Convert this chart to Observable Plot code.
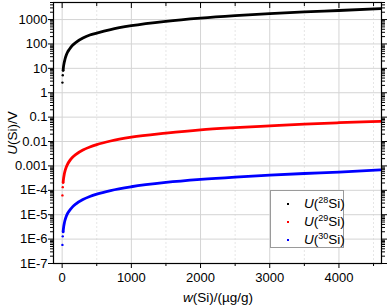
<!DOCTYPE html>
<html>
<head>
<meta charset="utf-8">
<script src="https://cdn.jsdelivr.net/npm/d3@7"></script>
<script src="https://cdn.jsdelivr.net/npm/@observablehq/plot@0.6"></script>
<style>
  body { margin: 0; background: #fff; }
  #wrap { position: relative; width: 387px; height: 306px; font-family: "Liberation Sans", Arial, sans-serif; }
  #wrap svg { position: absolute; left: 0; top: 0; }
  .lab { position: absolute; font-size: 13.5px; color: #000; white-space: nowrap; }
  #ylab { left: 12px; top: 133px; transform: translate(-50%, -50%) rotate(-90deg); }
  #xlab { left: 218px; top: 297px; transform: translate(-50%, -50%); }
  #legend { position: absolute; left: 270px; top: 190px; width: 72px; height: 56px; border: 1px solid #9a9a9a; background: #fff; font-size: 13.5px; }
  #legend .row { position: absolute; left: 0; height: 18px; line-height: 18px; width: 72px; }
  #legend .sym { position: absolute; left: 16px; top: 8px; width: 2px; height: 2px; }
  #legend .txt { position: absolute; left: 33px; top: 0; }
  sup { font-size: 9px; vertical-align: 5px; line-height: 0; }
</style>
</head>
<body>
<div id="wrap"></div>
<script>
// mass fraction of Si (µg/g)
const wSi = [4, 9, 14, 20, 30, 40, 60, 80, 100, 150, 200, 300, 400, 500, 700, 1000, 1500, 2000, 2500, 3000, 3500, 4000, 4600];
// U(28Si) / V
const U28 = [2.6, 5.2, 8.3, 12, 17.5, 23, 35, 47, 58, 88, 117, 175, 232, 280, 390, 560, 850, 1150, 1450, 1750, 2050, 2350, 2800];
// U(29Si) / V
const U29 = [6.2e-5, 1.35e-4, 2.1e-4, 3.0e-4, 4.5e-4, 6.0e-4, 9.0e-4, 1.2e-3, 1.5e-3, 2.25e-3, 3.0e-3, 4.5e-3, 6.0e-3, 7.5e-3, 0.0105, 0.015, 0.022, 0.03, 0.037, 0.044, 0.052, 0.059, 0.067];
// U(30Si) / V
const U30 = [5.8e-7, 1.3e-6, 2.0e-6, 2.9e-6, 4.3e-6, 5.8e-6, 8.6e-6, 1.15e-5, 1.4e-5, 2.1e-5, 2.8e-5, 4.2e-5, 5.6e-5, 7.0e-5, 9.8e-5, 1.4e-4, 2.1e-4, 2.8e-4, 3.5e-4, 4.2e-4, 4.9e-4, 5.6e-4, 6.9e-4];

const seriesNames = ["U(28Si)", "U(29Si)", "U(30Si)"];
const seriesColors = ["#000000", "#ff0000", "#0000ff"];
const seriesValues = [U28, U29, U30];

const xTicks = [0, 1000, 2000, 3000, 4000];
const xMinorTicks = [500, 1500, 2500, 3500, 4500];
const yTicks = [1e-7, 1e-6, 1e-5, 1e-4, 0.001, 0.01, 0.1, 1, 10, 100, 1000];
const yMinorTicks = [];
for (const d of yTicks) for (let m = 2; m <= 9; m++) if (d * m <= 5000) yMinorTicks.push(d * m);

const rows = [];
seriesValues.forEach((vals, si) => vals.forEach((v, i) => rows.push({w: wSi[i], u: v, s: seriesNames[si], i})));

const yFmt = v => v >= 0.001 ? String(v) : "1E" + Math.round(Math.log10(v));

const chart = Plot.plot({
  width: 387,
  height: 306,
  marginLeft: 53,
  marginRight: 6,
  marginTop: 2,
  marginBottom: 43,
  style: {fontFamily: "'Liberation Sans', Arial, sans-serif", fontSize: "13px", background: "transparent", overflow: "visible"},
  x: {domain: [-125, 4615], label: null},
  y: {type: "log", domain: [1e-7, 5000], label: null},
  color: {domain: seriesNames, range: seriesColors},
  marks: [
    Plot.gridX(xMinorTicks, {stroke: "#e6e6e6", strokeOpacity: 1, strokeDasharray: "2,2"}),
    Plot.gridX(xTicks, {stroke: "#d4d4d4", strokeOpacity: 1}),
    Plot.gridY(yTicks, {stroke: "#d4d4d4", strokeOpacity: 1}),
    Plot.line(rows.filter(d => d.i >= 2), {x: "w", y: "u", z: "s", stroke: "s", strokeWidth: 2.8, curve: "monotone-x"}),
    Plot.dot(rows.filter(d => d.i < 3), {x: "w", y: "u", fill: "s", r: 1.2}),
    Plot.axisX(xTicks, {anchor: "bottom", tickSize: 5, tickPadding: 4, fontSize: 13, tickFormat: d => String(d), label: null}),
    Plot.axisX(xMinorTicks, {anchor: "bottom", tickSize: 3, tickFormat: () => "", label: null}),
    Plot.axisX(xTicks, {anchor: "top", tickSize: -5, tickFormat: () => "", label: null}),
    Plot.axisX(xMinorTicks, {anchor: "top", tickSize: -3, tickFormat: () => "", label: null}),
    Plot.axisY(yTicks, {anchor: "left", tickSize: 5, tickPadding: 1, tickFormat: yFmt, fontSize: 13, label: null}),
    Plot.axisY(yMinorTicks, {anchor: "left", tickSize: 3, tickFormat: () => "", label: null}),
    Plot.axisY(yTicks, {anchor: "right", tickSize: 5, tickFormat: () => "", label: null}),
    Plot.axisY(yMinorTicks, {anchor: "right", tickSize: 3, tickFormat: () => "", label: null}),
    Plot.frame({stroke: "#000", strokeWidth: 1.2})
  ]
});

const wrap = document.getElementById("wrap");
wrap.appendChild(chart);

const ylab = document.createElement("div");
ylab.className = "lab"; ylab.id = "ylab";
ylab.innerHTML = "<i>U</i>(Si)/V";
wrap.appendChild(ylab);

const xlab = document.createElement("div");
xlab.className = "lab"; xlab.id = "xlab";
xlab.innerHTML = "<i>w</i>(Si)/(µg/g)";
wrap.appendChild(xlab);

const legend = document.createElement("div");
legend.id = "legend";
const isotopes = ["28", "29", "30"];
isotopes.forEach((iso, k) => {
  const row = document.createElement("div");
  row.className = "row";
  row.style.top = (4 + k * 18) + "px";
  row.innerHTML = `<span class="sym" style="background:${seriesColors[k]}"></span><span class="txt"><i>U</i>(<sup>${iso}</sup>Si)</span>`;
  legend.appendChild(row);
});
wrap.appendChild(legend);
</script>
</body>
</html>
